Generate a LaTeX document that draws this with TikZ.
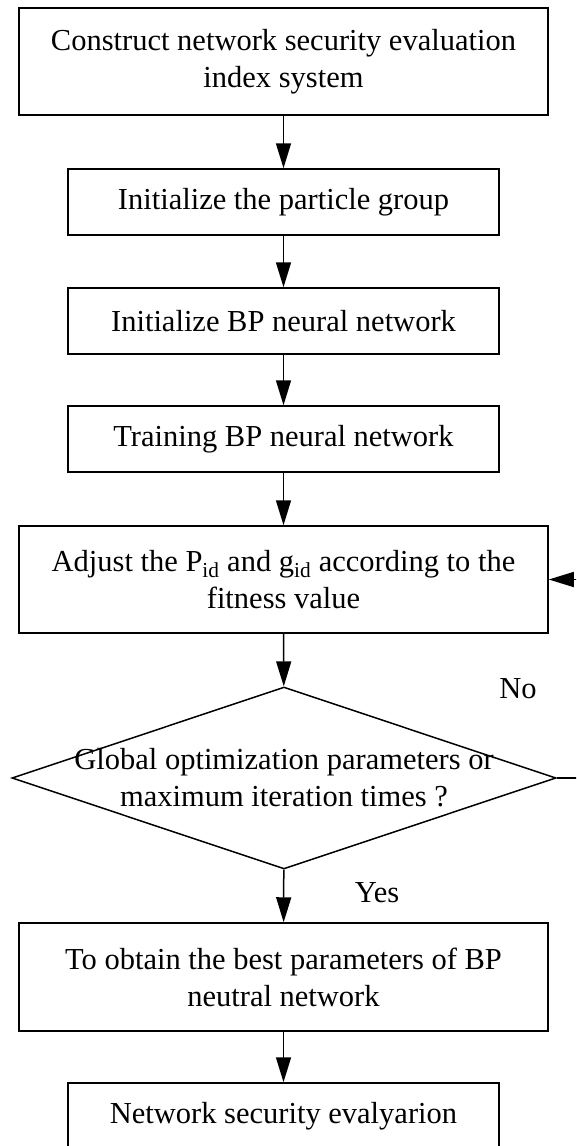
\documentclass[tikz,border=0pt]{standalone}
\usepackage{fontspec}
\setmainfont{Liberation Serif}
\usetikzlibrary{shapes.geometric,arrows.meta}

\begin{document}
\begin{tikzpicture}[x=1pt,y=-1pt,
	box/.style={draw,line width=1.5pt,inner sep=0pt,align=center,font=\fontsize{30.5}{37}\selectfont},
	wide/.style={box,minimum width=529pt,minimum height=107pt},
	narrow/.style={box,minimum width=431pt,minimum height=66pt},
	txt/.style={inner sep=0pt,align=center,font=\fontsize{30.5}{37}\selectfont},
	flow/.style={-{Triangle[length=25pt,width=15pt]},line width=1.5pt}]
		\clip (0,0) rectangle (576,1146);
		\node[wide] (index) at (283.5,61.5) {Construct network security evaluation\\index system};
		\node[narrow] (swarm) at (283.5,202) {Initialize the particle group};
		\node[narrow] (initbp) at (283.5,321) {Initialize BP neural network};
		\node[narrow] (train) at (283.5,439) {Training BP neural network};
		\node[wide] (adjust) at (283.5,579.5) {Adjust the P\textsubscript{id} and g\textsubscript{id} according to the\\fitness value};
		\node[draw,diamond,line width=1.5pt,inner sep=0pt,minimum width=544pt,minimum height=182pt] (check) at (284,778) {};
		\node[txt] (checktxt) at (284,778) {Global optimization parameters or\\maximum iteration times ?};
		\node[wide,minimum height=108pt] (best) at (283.5,977) {To obtain the best parameters of BP\\neutral network};
		\node[narrow] (evaluate) at (283.5,1116) {Network security evalyarion};
		\node[txt] (no) at (518,689) {No};
		\node[txt] (yes) at (377,893) {Yes};
		\coordinate (loop) at (600,778);
		\coordinate (back) at (600,579.5);
		% main flow
		\draw[flow] (index) -- (swarm);
		\draw[flow] (swarm) -- (initbp);
		\draw[flow] (initbp) -- (train);
		\draw[flow] (train) -- (adjust);
		\draw[flow] (adjust) -- (check);
		\draw[flow] (check) -- (best);
		\draw[flow] (best) -- (evaluate);
		% back to the adjust step
		\draw[flow] (check.east) -- (loop) -- (back) -- (adjust.east);
	\end{tikzpicture}
\end{document}
